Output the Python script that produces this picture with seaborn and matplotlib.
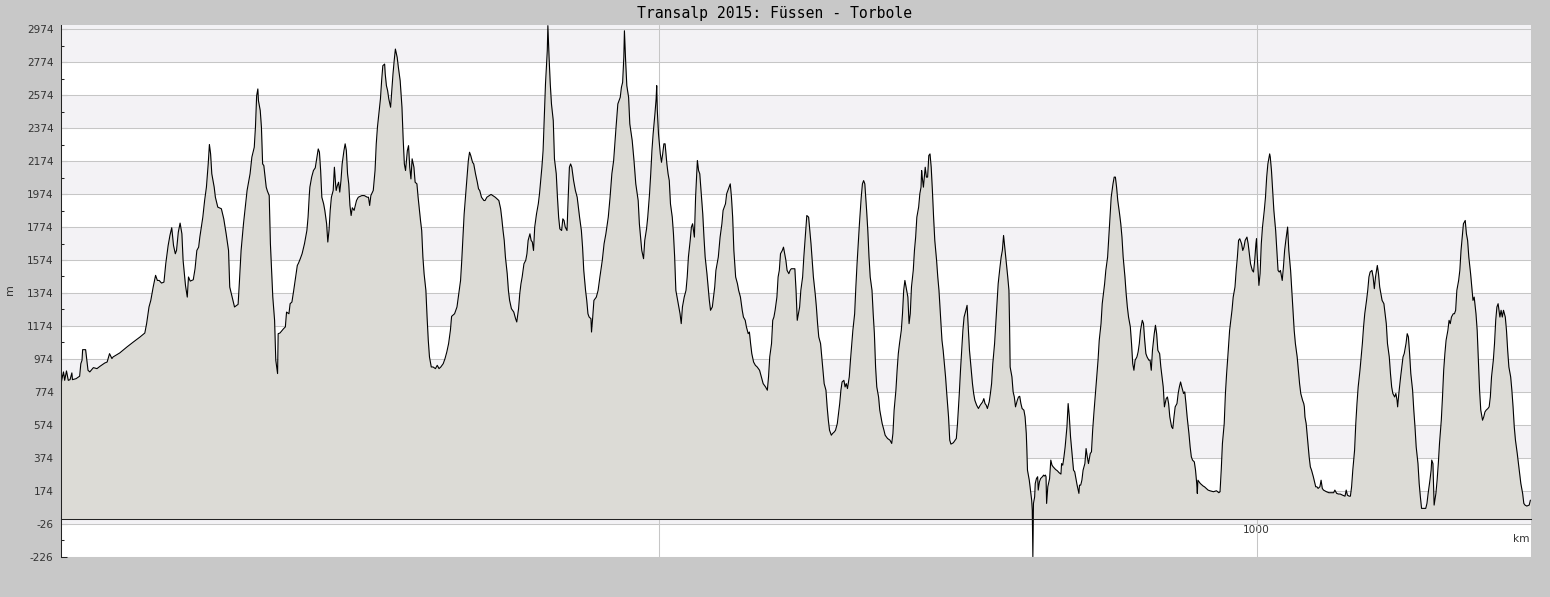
import matplotlib
matplotlib.use("Agg")
import matplotlib.pyplot as plt
import seaborn as sns
import pandas as pd
from matplotlib.ticker import FixedLocator, MultipleLocator, FixedFormatter

sns.set_theme(style="white")
plt.rcParams['font.family'] = ['DejaVu Sans']

title = "Transalp 2015: Füssen - Torbole"
x_label = "km"
y_label = "m"
y_ticks = [-226, -26, 174, 374, 574, 774, 974, 1174, 1374, 1574, 1774, 1974, 2174, 2374, 2574, 2774, 2974]
x_major = [900, 1000]
x_major_labels = ["", "1000"]

# (km, elevation m) read from the profile, section by section
seg1 = [(800.0, 804), (800.2, 844), (800.5, 895), (800.7, 844), (801.0, 901), (801.3, 844), (801.6, 848),
        (801.9, 889), (802.0, 848), (802.6, 854), (803.2, 869), (803.4, 945), (803.6, 966), (803.7, 1030),
        (804.2, 1030), (804.4, 966), (804.6, 905), (804.9, 895), (805.5, 921), (806.1, 915), (806.6, 929),
        (807.4, 949), (807.8, 955), (808.2, 1006), (808.6, 976), (808.8, 986), (809.9, 1010), (811.1, 1046),
        (812.2, 1077), (813.3, 1107), (814.1, 1131), (814.4, 1188), (814.8, 1289), (815.1, 1329), (815.5, 1410),
        (815.9, 1481), (816.2, 1450), (816.5, 1450), (816.9, 1434), (817.3, 1440), (817.6, 1551), (818.0, 1662),
        (818.3, 1723), (818.6, 1770), (818.9, 1662), (819.2, 1612), (819.4, 1632), (819.7, 1743), (820.0, 1798),
        (820.3, 1733), (820.5, 1572), (820.9, 1420), (821.2, 1349), (821.4, 1471), (821.7, 1446), (822.2, 1454),
        (822.5, 1521), (822.8, 1632), (823.1, 1652), (823.3, 1713), (823.8, 1834), (824.1, 1935), (824.4, 2016),
        (824.7, 2157), (824.9, 2275), (825.1, 2218), (825.3, 2097), (825.7, 2016), (825.9, 1955), (826.3, 1895),
        (826.9, 1885), (827.3, 1824), (827.7, 1733), (828.1, 1632), (828.3, 1410), (828.7, 1349), (829.1, 1289),
        (829.7, 1305), (829.9, 1430), (830.2, 1632), (830.6, 1794), (830.9, 1895), (831.2, 1996), (831.7, 2097),
        (832.0, 2198), (832.4, 2258), (832.6, 2380), (832.8, 2571), (833.0, 2612), (833.1, 2541), (833.4, 2481),
        (833.6, 2380), (833.8, 2157), (834.0, 2147), (834.4, 2016), (834.6, 1992), (834.9, 1965), (835.1, 1673),
        (835.5, 1349), (835.8, 1208), (836.0, 966), (836.3, 885), (836.4, 1127), (836.7, 1131), (837.3, 1157),
        (837.6, 1168), (837.8, 1258), (838.2, 1248), (838.4, 1309), (838.7, 1319), (839.0, 1390), (839.4, 1491),
        (839.6, 1541), (839.8, 1555), (840.1, 1582), (840.4, 1612), (840.8, 1673), (841.2, 1753), (841.4, 1834),
        (841.6, 1965)]

seg2 = [(841.7, 2016), (842.0, 2077), (842.3, 2117), (842.6, 2133), (842.8, 2178), (843.1, 2248), (843.3, 2228),
        (843.5, 2117), (843.7, 1955), (844.0, 1915), (844.2, 1875), (844.5, 1794), (844.7, 1683), (844.9, 1753),
        (845.1, 1875), (845.3, 1955), (845.6, 1996), (845.8, 2137), (846.0, 2036), (846.1, 1996), (846.3, 2026),
        (846.5, 2046), (846.7, 1986), (846.9, 2056), (847.1, 2157), (847.4, 2238), (847.6, 2279), (847.8, 2238),
        (848.0, 2097), (848.2, 2036), (848.4, 1905), (848.6, 1844), (848.8, 1891), (849.1, 1875), (849.5, 1935),
        (849.8, 1955), (850.4, 1965), (850.8, 1965), (851.3, 1955), (851.5, 1955), (851.7, 1905), (851.9, 1965),
        (852.3, 1996), (852.6, 2117), (852.8, 2279), (853.0, 2380), (853.3, 2481), (853.5, 2551), (853.7, 2662),
        (853.9, 2753), (854.2, 2763), (854.3, 2703), (854.5, 2632), (854.7, 2602), (854.9, 2551), (855.2, 2501),
        (855.4, 2602), (855.6, 2703), (855.8, 2784), (856.0, 2854), (856.3, 2804), (856.5, 2743), (856.8, 2662),
        (857.1, 2501), (857.3, 2309), (857.5, 2157), (857.7, 2117), (858.0, 2238), (858.2, 2268), (858.4, 2137),
        (858.6, 2066), (858.8, 2188), (859.1, 2137), (859.3, 2046), (859.6, 2036), (859.8, 1955), (860.2, 1814),
        (860.4, 1753), (860.6, 1592), (860.8, 1491), (861.1, 1390), (861.3, 1228), (861.5, 1087), (861.7, 986),
        (862.0, 925), (862.3, 925), (862.7, 915), (863.0, 935), (863.3, 915), (863.6, 925), (864.0, 945),
        (864.3, 976), (864.6, 1016), (864.9, 1067), (865.2, 1147), (865.4, 1232), (865.9, 1248), (866.3, 1289),
        (866.6, 1370), (866.9, 1450), (867.1, 1572), (867.3, 1713), (867.5, 1854), (867.8, 1996), (868.0, 2097),
        (868.2, 2178), (868.4, 2228), (868.6, 2208), (868.9, 2167), (869.1, 2157), (869.4, 2097), (869.7, 2046),
        (869.9, 2006), (870.1, 1996), (870.4, 1955), (870.8, 1935), (871.0, 1935), (871.3, 1955), (871.7, 1965),
        (872.0, 1972), (872.3, 1965), (872.7, 1955), (873.0, 1945), (873.3, 1935), (873.6, 1885), (873.8, 1824),
        (874.0, 1753), (874.2, 1693), (874.4, 1592), (874.7, 1491), (874.9, 1390), (875.1, 1329), (875.4, 1279),
        (875.8, 1258), (876.1, 1218), (876.3, 1198), (876.6, 1279), (876.8, 1370), (877.0, 1430), (877.2, 1471),
        (877.5, 1551), (877.8, 1572), (878.0, 1612), (878.2, 1693), (878.5, 1733), (878.7, 1693), (878.9, 1683),
        (879.1, 1632), (879.3, 1774), (879.6, 1854), (879.9, 1915), (880.1, 1976), (880.5, 2137), (880.7, 2238),
        (880.9, 2440), (881.1, 2642), (881.4, 2844), (881.5, 2996), (881.7, 2804), (881.9, 2642), (882.1, 2521),
        (882.4, 2420)]

seg3 = [(882.6, 2188), (882.9, 2097), (883.1, 1955), (883.3, 1834), (883.5, 1763), (883.8, 1753), (884.0, 1824),
        (884.2, 1814), (884.4, 1774), (884.7, 1753), (884.9, 1955), (885.1, 2137), (885.3, 2157), (885.5, 2137),
        (885.8, 2056), (886.1, 1996), (886.4, 1955), (886.8, 1834), (887.1, 1753), (887.3, 1652), (887.5, 1511),
        (887.8, 1390), (888.0, 1329), (888.2, 1248), (888.4, 1228), (888.7, 1218), (888.8, 1137), (889.0, 1228),
        (889.2, 1329), (889.6, 1349), (889.9, 1390), (890.2, 1471), (890.6, 1572), (890.9, 1673), (891.2, 1733),
        (891.6, 1834), (891.9, 1955), (892.2, 2097), (892.5, 2178), (892.7, 2279), (892.9, 2380), (893.2, 2521),
        (893.6, 2561), (893.8, 2622), (894.0, 2652), (894.2, 2804), (894.3, 2965), (894.5, 2784), (894.7, 2632),
        (895.0, 2561), (895.2, 2400), (895.6, 2299), (895.9, 2178), (896.2, 2036), (896.6, 1935), (896.8, 1794),
        (897.0, 1713), (897.2, 1632), (897.5, 1582), (897.7, 1693), (898.0, 1763), (898.2, 1834), (898.5, 1976),
        (898.7, 2097), (898.9, 2238), (899.1, 2339), (899.4, 2460), (899.6, 2551), (899.7, 2632), (899.8, 2481),
        (900.0, 2339), (900.3, 2218), (900.5, 2167), (900.7, 2218), (900.9, 2279), (901.1, 2279), (901.4, 2157),
        (901.6, 2097), (901.8, 2056), (902.0, 1915), (902.3, 1834), (902.5, 1733), (902.7, 1592), (902.9, 1390),
        (903.2, 1329), (903.4, 1289), (903.6, 1248), (903.8, 1188), (904.0, 1289), (904.3, 1349), (904.6, 1390),
        (904.8, 1471), (905.0, 1592), (905.3, 1693), (905.5, 1774), (905.7, 1794), (906.0, 1713), (906.2, 1955),
        (906.4, 2097), (906.5, 2178), (906.7, 2117), (906.9, 2097), (907.2, 1955), (907.4, 1854), (907.6, 1713),
        (907.8, 1592), (908.1, 1491), (908.3, 1410), (908.5, 1329), (908.7, 1269), (909.0, 1289), (909.2, 1349),
        (909.4, 1410), (909.6, 1511), (910.0, 1592), (910.3, 1713), (910.6, 1794), (910.8, 1875), (911.2, 1915),
        (911.4, 1976), (911.7, 2006), (912.0, 2036), (912.2, 1955), (912.4, 1834), (912.6, 1632), (912.9, 1471),
        (913.2, 1430), (913.4, 1390), (913.7, 1349), (914.0, 1269), (914.2, 1228), (914.5, 1208), (914.7, 1168),
        (915.0, 1127), (915.2, 1137), (915.4, 1067), (915.6, 1006), (915.9, 955), (916.2, 935), (916.5, 925),
        (916.9, 905), (917.2, 865), (917.5, 824), (917.9, 804), (918.2, 784), (918.4, 865), (918.6, 986),
        (918.9, 1067), (919.1, 1208), (919.3, 1228), (919.5, 1269), (919.8, 1349), (920.0, 1471), (920.2, 1511),
        (920.4, 1612), (920.7, 1632), (920.9, 1652), (921.1, 1612), (921.3, 1572), (921.5, 1511), (921.8, 1491),
        (922.0, 1511), (922.2, 1521), (922.6, 1521), (922.8, 1521), (923.0, 1390), (923.2, 1208), (923.4, 1248)]

seg4 = [(923.6, 1289), (923.8, 1390), (924.1, 1471), (924.3, 1592), (924.5, 1693), (924.7, 1794), (924.8, 1844),
        (925.1, 1834), (925.3, 1753), (925.5, 1673), (925.7, 1572), (925.9, 1471), (926.2, 1370), (926.4, 1289),
        (926.6, 1188), (926.8, 1107), (927.1, 1067), (927.3, 986), (927.5, 905), (927.7, 824), (928.0, 784),
        (928.2, 683), (928.4, 602), (928.6, 541), (928.9, 511), (929.1, 521), (929.4, 531), (929.6, 541),
        (929.9, 582), (930.1, 642), (930.3, 703), (930.5, 784), (930.7, 834), (931.0, 844), (931.2, 804),
        (931.4, 824), (931.6, 794), (931.9, 865), (932.1, 966), (932.3, 1056), (932.5, 1147), (932.8, 1248),
        (933.0, 1410), (933.2, 1551), (933.4, 1673), (933.6, 1794), (933.9, 1955), (934.1, 2036), (934.3, 2056),
        (934.5, 2036), (934.8, 1875), (935.0, 1753), (935.2, 1592), (935.4, 1471), (935.7, 1390), (935.9, 1248),
        (936.1, 1127), (936.3, 925), (936.5, 804), (936.8, 743), (937.0, 663), (937.2, 622), (937.4, 582),
        (937.7, 541), (937.9, 511), (938.3, 491), (938.7, 481), (939.0, 461), (939.2, 521), (939.4, 663),
        (939.7, 784), (939.9, 905), (940.1, 1006), (940.3, 1067), (940.6, 1147), (940.8, 1248), (941.0, 1390),
        (941.2, 1450), (941.4, 1410), (941.7, 1349), (941.9, 1188), (942.1, 1248), (942.3, 1410), (942.6, 1511),
        (942.8, 1632), (943.0, 1713), (943.2, 1834), (943.5, 1895), (943.7, 1976), (943.9, 2016), (944.0, 2117),
        (944.1, 2077), (944.3, 2016), (944.6, 2137), (944.8, 2077), (945.0, 2077), (945.2, 2208), (945.4, 2218),
        (945.6, 2137), (945.8, 1996), (946.0, 1834), (946.2, 1693), (946.5, 1572), (946.7, 1471), (946.9, 1390),
        (947.1, 1269), (947.4, 1087), (947.6, 1026), (947.8, 945), (948.0, 865), (948.2, 764), (948.5, 622),
        (948.7, 481), (948.9, 457), (949.3, 465), (949.6, 481), (949.8, 491), (950.0, 582), (950.3, 764),
        (950.5, 905), (950.7, 1026), (950.9, 1147), (951.1, 1228), (951.4, 1269), (951.6, 1299), (951.8, 1168),
        (952.0, 1026), (952.3, 905), (952.5, 824), (952.7, 764), (952.9, 723), (953.2, 693), (953.5, 673),
        (953.8, 693), (954.2, 713), (954.4, 733), (954.6, 703), (954.8, 693), (955.0, 673), (955.3, 713),
        (955.5, 764), (955.7, 824), (955.9, 945), (956.2, 1067), (956.4, 1188), (956.6, 1309), (956.8, 1430),
        (957.1, 1531), (957.3, 1592), (957.5, 1632), (957.7, 1723), (957.9, 1652), (958.2, 1551), (958.4, 1471),
        (958.6, 1390), (958.7, 1188), (958.8, 925), (959.1, 865), (959.3, 774), (959.5, 743), (959.7, 683),
        (960.0, 723), (960.2, 743), (960.4, 747), (960.6, 703), (960.8, 673), (961.1, 663), (961.3, 622),
        (961.5, 521), (961.6, 420), (961.7, 299), (962.0, 238), (962.2, 178), (962.4, 117), (962.5, 57),
        (962.6, -226), (962.7, 97), (962.9, 137), (963.0, 218), (963.2, 248), (963.4, 259), (963.5, 178),
        (963.7, 228), (963.9, 248), (964.2, 259), (964.4, 269)]

seg5 = [(964.5, 263), (964.7, 269), (964.8, 259), (964.9, 97), (965.1, 198), (965.4, 248), (965.6, 360),
        (965.8, 329), (966.0, 319), (966.4, 303), (966.7, 295), (967.0, 283), (967.3, 275), (967.4, 339),
        (967.6, 329), (967.8, 380), (968.0, 440), (968.3, 562), (968.5, 703), (968.7, 622), (968.9, 501),
        (969.2, 380), (969.4, 299), (969.6, 289), (969.8, 248), (970.0, 208), (970.3, 158), (970.4, 208),
        (970.6, 208), (970.8, 238), (971.0, 299), (971.3, 339), (971.5, 430), (971.7, 380), (971.9, 339),
        (972.2, 400), (972.4, 410), (972.6, 541), (972.8, 642), (973.1, 784), (973.3, 885), (973.5, 966),
        (973.7, 1087), (974.0, 1188), (974.2, 1309), (974.4, 1370), (974.6, 1430), (974.8, 1511), (975.1, 1592),
        (975.3, 1713), (975.5, 1834), (975.7, 1955), (976.0, 2036), (976.2, 2077), (976.4, 2077), (976.6, 2016),
        (976.8, 1935), (977.1, 1854), (977.3, 1794), (977.5, 1713), (977.7, 1592), (978.0, 1471), (978.2, 1370),
        (978.4, 1289), (978.6, 1228), (978.9, 1168), (979.1, 1067), (979.3, 945), (979.5, 905), (979.7, 966),
        (980.0, 986), (980.2, 1016), (980.4, 1067), (980.6, 1147), (980.9, 1208), (981.1, 1188), (981.3, 1087),
        (981.5, 1006), (981.7, 986), (982.0, 966), (982.2, 966), (982.4, 905), (982.6, 1026), (982.9, 1127),
        (983.1, 1178), (983.3, 1127), (983.5, 1026), (983.8, 1006), (984.0, 925), (984.2, 865), (984.4, 804),
        (984.6, 683), (984.9, 733), (985.1, 743), (985.3, 703), (985.5, 622), (985.8, 562), (986.0, 551),
        (986.2, 622), (986.4, 683), (986.7, 703), (986.9, 764), (987.1, 804), (987.3, 834), (987.5, 804),
        (987.8, 764), (988.0, 774), (988.2, 703), (988.4, 622), (988.7, 521), (988.9, 440), (989.1, 380),
        (989.3, 360), (989.6, 349), (989.8, 299), (990.0, 218), (990.1, 158), (990.2, 238), (990.6, 218),
        (990.9, 208), (991.1, 202), (991.3, 198), (991.6, 188), (991.9, 178), (992.2, 174), (992.8, 168),
        (993.3, 174), (993.7, 162), (993.9, 168), (994.1, 299), (994.3, 461), (994.6, 582), (994.8, 764),
        (995.0, 885), (995.2, 986), (995.5, 1147), (995.7, 1208), (995.9, 1269), (996.1, 1349), (996.4, 1410),
        (996.6, 1511), (996.8, 1592), (997.0, 1693), (997.2, 1703), (997.5, 1673), (997.7, 1632), (997.9, 1652),
        (998.1, 1693), (998.4, 1713), (998.6, 1673), (998.8, 1612), (999.0, 1551), (999.3, 1511), (999.5, 1501),
        (999.7, 1572), (999.9, 1673), (1000.0, 1703), (1000.1, 1612), (1000.4, 1420), (1000.6, 1491),
        (1000.8, 1673), (1001.0, 1774), (1001.3, 1875), (1001.5, 1955), (1001.7, 2077), (1001.9, 2157),
        (1002.2, 2218), (1002.3, 2198), (1002.5, 2117), (1002.7, 1996), (1002.9, 1875), (1003.2, 1753),
        (1003.4, 1632), (1003.6, 1511), (1003.8, 1501), (1004.0, 1511), (1004.3, 1450), (1004.5, 1531),
        (1004.7, 1632), (1004.9, 1693), (1005.2, 1774)]

seg6 = [(1005.4, 1632), (1005.7, 1511), (1005.9, 1390), (1006.1, 1269), (1006.3, 1147), (1006.5, 1067),
        (1006.8, 986), (1007.0, 905), (1007.2, 824), (1007.4, 764), (1007.7, 723), (1007.9, 703), (1008.0, 683),
        (1008.1, 622), (1008.3, 582), (1008.6, 461), (1008.8, 380), (1009.0, 319), (1009.2, 299), (1009.5, 259),
        (1009.7, 228), (1009.9, 198), (1010.1, 198), (1010.3, 188), (1010.6, 198), (1010.8, 238), (1011.0, 188),
        (1011.2, 178), (1011.7, 168), (1012.1, 162), (1012.6, 162), (1012.9, 162), (1013.1, 178), (1013.4, 158),
        (1013.7, 154), (1014.0, 154), (1014.4, 147), (1014.8, 141), (1015.0, 178), (1015.2, 147), (1015.5, 141),
        (1015.7, 141), (1015.9, 198), (1016.1, 299), (1016.4, 420), (1016.6, 582), (1016.8, 703), (1017.0, 804),
        (1017.3, 905), (1017.5, 986), (1017.7, 1067), (1017.9, 1168), (1018.1, 1248), (1018.4, 1329),
        (1018.6, 1390), (1018.8, 1471), (1019.0, 1501), (1019.3, 1511), (1019.5, 1471), (1019.7, 1400),
        (1019.9, 1471), (1020.2, 1541), (1020.4, 1491), (1020.6, 1410), (1020.8, 1370), (1021.0, 1329),
        (1021.3, 1309), (1021.5, 1248), (1021.7, 1188), (1021.9, 1067), (1022.2, 986), (1022.4, 885),
        (1022.6, 804), (1022.8, 764), (1023.1, 743), (1023.3, 764), (1023.5, 723), (1023.6, 683), (1023.8, 764),
        (1024.1, 865), (1024.3, 925), (1024.5, 986), (1024.7, 1006), (1025.0, 1067), (1025.2, 1127),
        (1025.4, 1107), (1025.6, 1006), (1025.8, 885), (1026.1, 784), (1026.3, 663), (1026.5, 562), (1026.7, 440),
        (1027.0, 339), (1027.2, 218), (1027.4, 137), (1027.6, 67), (1028.0, 67), (1028.3, 67), (1028.5, 97),
        (1028.7, 158), (1029.0, 238), (1029.2, 299), (1029.3, 360), (1029.5, 339), (1029.7, 87), (1030.0, 158),
        (1030.2, 238), (1030.4, 339), (1030.6, 461), (1030.9, 602), (1031.1, 743), (1031.3, 905), (1031.5, 1006),
        (1031.7, 1087), (1032.0, 1147), (1032.2, 1208), (1032.4, 1188), (1032.6, 1228), (1032.9, 1248),
        (1033.1, 1248), (1033.3, 1269), (1033.5, 1390), (1033.8, 1450), (1034.0, 1511), (1034.2, 1632),
        (1034.4, 1713), (1034.6, 1794), (1034.9, 1814), (1035.1, 1733), (1035.3, 1693), (1035.5, 1592),
        (1035.8, 1491), (1036.0, 1410), (1036.2, 1329), (1036.4, 1349), (1036.7, 1248), (1036.9, 1147),
        (1037.1, 966), (1037.3, 784), (1037.5, 663), (1037.8, 602), (1038.0, 622), (1038.2, 652), (1038.4, 663),
        (1038.7, 673), (1038.9, 683), (1039.1, 743), (1039.3, 865), (1039.6, 966), (1039.8, 1067), (1040.0, 1208),
        (1040.2, 1289), (1040.4, 1309), (1040.7, 1228), (1040.9, 1269), (1041.1, 1228), (1041.3, 1269),
        (1041.6, 1228), (1041.8, 1147), (1042.0, 1026), (1042.2, 925), (1042.5, 865), (1042.7, 784),
        (1042.9, 683), (1043.1, 562), (1043.3, 481), (1043.6, 400), (1043.8, 339), (1044.0, 279), (1044.2, 218),
        (1044.5, 158), (1044.7, 97), (1044.9, 87), (1045.2, 81), (1045.6, 87), (1045.8, 117)]

points = seg1 + seg2 + seg3 + seg4 + seg5 + seg6
df = pd.DataFrame(points, columns=["km", "elev"])

W, H = 1550, 597
fig = plt.figure(figsize=(W / 100, H / 100), dpi=100, facecolor="#c8c8c8")
ax = fig.add_axes([60.5 / W, 1 - 557 / H, (1530.7 - 60.5) / W, (557 - 24.5) / H])
ax.set_facecolor("white")
ax.set_xlim(800, 1045.85)
ax.set_ylim(-228, 3003)

# alternating bands
for lo in y_ticks[1::2]:
    hi = lo + 200 if lo + 200 < 2974 else 3003
    ax.axhspan(lo, hi, color="#f3f2f5", lw=0, zorder=0)
for yv in y_ticks:
    ax.axhline(yv, color="#c6c6c6", lw=0.75, zorder=1)
for xv in x_major:
    ax.axvline(xv, color="#c6c6c6", lw=0.75, zorder=1)

ax.fill_between(df["km"], df["elev"], 0, color="#dcdbd6", lw=0, zorder=2)
sns.lineplot(data=df, x="km", y="elev", color="black", lw=0.8, sort=False, estimator=None,
             ax=ax, zorder=3)

for s in ["top", "right"]:
    ax.spines[s].set_visible(False)
ax.spines["left"].set_color("#222222")
ax.spines["left"].set_linewidth(0.75)
ax.spines["bottom"].set_position(("data", 0))
ax.spines["bottom"].set_color("#222222")
ax.spines["bottom"].set_linewidth(0.75)
ax.spines["left"].set_zorder(5)
ax.spines["bottom"].set_zorder(5)

ax.yaxis.set_major_locator(FixedLocator(y_ticks))
ax.yaxis.set_minor_locator(FixedLocator([v + 100 for v in y_ticks[:-1]]))
ax.set_yticklabels([str(v) for v in y_ticks])
ax.xaxis.set_major_locator(FixedLocator(x_major))
ax.xaxis.set_major_formatter(FixedFormatter(x_major_labels))
ax.xaxis.set_minor_locator(MultipleLocator(20))

ax.tick_params(axis="y", which="major", direction="in", length=4.2, width=0.75, color="#222222",
               labelsize=7.6, labelcolor="#333333", pad=5, left=True)
ax.tick_params(axis="y", which="minor", direction="in", length=2.4, width=0.75, color="#222222", left=True)
ax.tick_params(axis="x", which="major", direction="in", length=4.0, width=0.75, color="#222222",
               labelsize=7.6, labelcolor="#333333", pad=4, bottom=True)
ax.tick_params(axis="x", which="minor", direction="in", length=2.6, width=0.75, color="#222222", bottom=True)
ax.set_xlabel("")
ax.set_ylabel("")

ax.text(1045.6, -118, x_label, ha="right", va="center", fontsize=7.6, color="#333333")
fig.text(10 / W, 1 - 290 / H, y_label, rotation=90, ha="center", va="center", fontsize=8, color="#333333")
fig.text(0.5, 1 - 13.5 / H, title, ha="center", va="center", fontsize=10.6, color="black",
         family=["DejaVu Sans Mono"])

fig.savefig("out.png", dpi=100, facecolor=fig.get_facecolor())
